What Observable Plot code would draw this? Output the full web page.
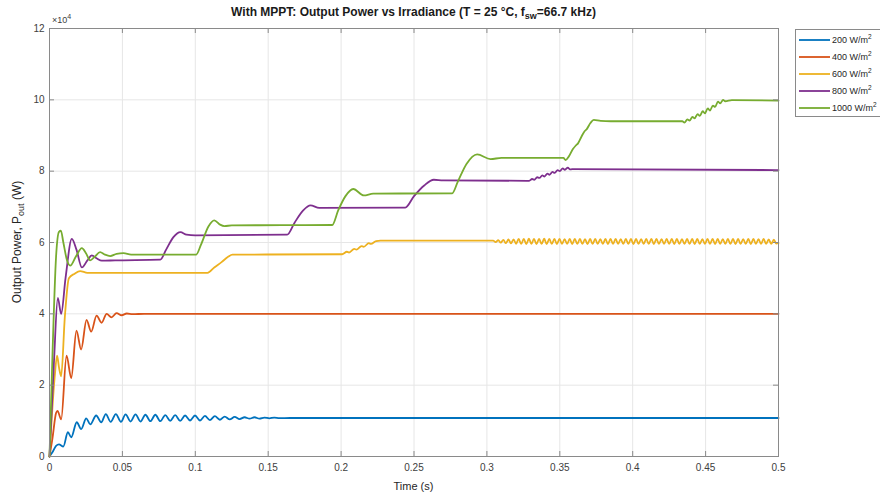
<!DOCTYPE html>
<html><head><meta charset="utf-8">
<script src="https://cdn.jsdelivr.net/npm/d3@7"></script>
<script src="https://cdn.jsdelivr.net/npm/@observablehq/plot@0.6"></script>
<style>
body{margin:0;background:#fff;}
svg{font-family:"Liberation Sans",Arial,Helvetica,sans-serif;}
</style>
</head><body><div id="chart"></div>
<script>
// ---- data (power in units of 1e4 W, time in s) ----
const seriesNames = ["200", "400", "600", "800", "1000"];
const seriesColors = ["#0072BD", "#D95319", "#EDB120", "#7E2F8E", "#77AC30"];
const xTicks = [0, 0.05, 0.1, 0.15, 0.2, 0.25, 0.3, 0.35, 0.4, 0.45, 0.5];
const yTicks = [0, 2, 4, 6, 8, 10, 12];

const p200 = [[0,0],[0.002,0.12],[0.0045,0.3],[0.0065,0.34],[0.0095,0.28],[0.0126,0.68],[0.0149,0.54],[0.0187,0.96],[0.0217,0.77],[0.0252,1.07],[0.028,0.9],[0.032,1.15],[0.0355,0.96],
[0.0386,1.19],[0.042,0.97],[0.0455,1.19],[0.049,0.97],[0.0522,1.18],[0.0556,0.98],[0.059,1.18],[0.0624,0.98],[0.0658,1.17],[0.0692,0.99],[0.0726,1.17],[0.076,0.99],[0.0794,1.16],[0.0828,1.0],[0.0862,1.16],[0.0896,1.0],[0.093,1.15],[0.0964,1.01],[0.0998,1.15],[0.1032,1.01],[0.1066,1.14],[0.11,1.02],[0.1134,1.13],[0.1168,1.03],[0.1202,1.12],[0.1236,1.04],[0.127,1.11],[0.1304,1.05],[0.1338,1.1],[0.1372,1.06],[0.1406,1.1],[0.144,1.06],[0.1474,1.09],[0.1508,1.07],[0.1542,1.09],[0.1576,1.075],[0.165,1.08],[0.5,1.08]];

const p400 = [[0,0],[0.002,0.5],[0.0045,1.22],[0.0055,1.28],[0.008,1.04],[0.0117,2.83],[0.0149,2.2],[0.0185,3.53],[0.0217,3.0],[0.0254,3.83],[0.0286,3.5],[0.0323,3.95],[0.0357,3.75],[0.0392,4.0],[0.0425,3.9],[0.046,4.02],[0.0495,3.96],[0.053,4.01],[0.057,3.99],[0.065,4.0],[0.5,4.0]];

const p600 = [[0,0],[0.0035,2.2],[0.0052,2.83],[0.0065,2.5],[0.008,2.25],[0.0105,3.9],[0.0133,5.0],[0.017,5.12],[0.021,5.2],[0.026,5.15],[0.04,5.15],[0.1084,5.15],[0.113,5.3],[0.118,5.45],[0.1225,5.6],[0.1255,5.66],
[0.2007,5.67],[0.204,5.74],[0.2055,5.72],[0.209,5.82],[0.2105,5.8],[0.214,5.9],[0.2155,5.88],[0.219,5.98],[0.2205,5.96],[0.224,6.04],[0.227,6.05],[0.3025,6.05],
[0.3043,6.05],[0.3060,6.01],[0.3078,6.065],[0.3095,5.995],[0.3113,6.075],[0.3130,5.98],[0.3148,6.085],[0.3165,5.975],[0.3183,6.09],[0.3200,5.965],
[0.3218,6.1],[0.3235,5.96],[0.3253,6.1],[0.3270,5.955],[0.3288,6.105],[0.3305,5.96],[0.3323,6.1],[0.3340,5.955],[0.3358,6.1],[0.3375,5.96],
[0.3393,6.105],[0.3410,5.955],[0.3428,6.1],[0.3445,5.96],[0.3463,6.1],[0.3480,5.955],[0.3498,6.1],[0.3515,5.96],[0.3533,6.095],[0.3550,5.96],
[0.3568,6.1],[0.3585,5.955],[0.3603,6.1],[0.3620,5.96],[0.3638,6.1],[0.3655,5.96],[0.3673,6.095],[0.3690,5.955],[0.3708,6.1],[0.3725,5.96],
[0.3743,6.1],[0.3760,5.96],[0.3778,6.095],[0.3795,5.96],[0.3813,6.1],[0.3830,5.955],[0.3848,6.1],[0.3865,5.96],[0.3883,6.1],[0.3900,5.96],
[0.3918,6.095],[0.3935,5.96],[0.3953,6.1],[0.3970,5.96],[0.3988,6.1],[0.4005,5.955],[0.4023,6.1],[0.4040,5.96],[0.4058,6.095],[0.4075,5.96],
[0.4093,6.1],[0.4110,5.96],[0.4128,6.1],[0.4145,5.955],[0.4163,6.1],[0.4180,5.96],[0.4198,6.095],[0.4215,5.96],[0.4233,6.1],[0.4250,5.96],
[0.4268,6.1],[0.4285,5.955],[0.4303,6.1],[0.4320,5.96],[0.4338,6.095],[0.4355,5.96],[0.4373,6.1],[0.4390,5.96],[0.4408,6.1],[0.4425,5.955],
[0.4443,6.1],[0.4460,5.96],[0.4478,6.095],[0.4495,5.96],[0.4513,6.1],[0.4530,5.96],[0.4548,6.1],[0.4565,5.955],[0.4583,6.1],[0.4600,5.96],
[0.4618,6.095],[0.4635,5.96],[0.4653,6.1],[0.4670,5.96],[0.4688,6.1],[0.4705,5.955],[0.4723,6.1],[0.4740,5.96],[0.4758,6.095],[0.4775,5.96],
[0.4793,6.1],[0.4810,5.955],[0.4828,6.1],[0.4845,5.96],[0.4863,6.095],[0.4880,5.96],[0.4898,6.1],[0.4915,5.96],[0.4933,6.09],[0.4950,5.96],
[0.4968,6.08],[0.4985,5.97],[0.5,5.99]];

const p800 = [[0,0],[0.003,2.6],[0.0057,4.45],[0.008,4.0],[0.011,5.0],[0.0153,6.1],[0.0185,5.8],[0.0222,5.3],[0.026,5.5],[0.029,5.64],[0.0325,5.55],[0.0359,5.49],[0.045,5.5],[0.076,5.52],[0.08,5.8],[0.085,6.15],[0.0898,6.29],[0.094,6.22],[0.1,6.2],
[0.163,6.22],[0.168,6.55],[0.174,6.9],[0.179,7.04],[0.185,6.97],[0.244,6.98],[0.25,7.3],[0.257,7.6],[0.2636,7.76],[0.27,7.74],[0.329,7.73],
[0.331,7.78],[0.3325,7.76],[0.3345,7.83],[0.336,7.81],[0.338,7.88],[0.3395,7.85],[0.3415,7.93],[0.343,7.9],[0.345,7.98],[0.3465,7.95],[0.3485,8.03],[0.35,8.0],[0.352,8.08],[0.3535,8.04],[0.3555,8.1],[0.357,8.05],[0.36,8.06],[0.5,8.03]];

const p1000 = [[0,0],[0.002,2.8],[0.0045,5.6],[0.0065,6.3],[0.0078,6.33],[0.0095,6.0],[0.012,5.5],[0.0142,5.35],[0.018,5.6],[0.0222,5.84],[0.025,5.7],[0.0279,5.5],[0.031,5.6],[0.0347,5.73],[0.038,5.66],[0.0416,5.62],[0.046,5.68],[0.0508,5.7],[0.056,5.66],
[0.1005,5.66],[0.104,5.95],[0.109,6.45],[0.113,6.62],[0.117,6.5],[0.12,6.46],[0.125,6.48],[0.1939,6.49],[0.198,6.9],[0.203,7.3],[0.2083,7.5],[0.2156,7.32],[0.222,7.37],
[0.2762,7.38],[0.28,7.7],[0.286,8.2],[0.2933,8.47],[0.3025,8.34],[0.31,8.37],[0.3525,8.37],[0.354,8.31],[0.356,8.4],[0.359,8.62],[0.361,8.72],[0.3625,8.78],[0.365,8.98],[0.367,9.12],[0.3685,9.18],[0.371,9.35],[0.3733,9.44],[0.378,9.41],[0.385,9.4],
[0.434,9.4],[0.4355,9.36],[0.4375,9.45],[0.439,9.42],[0.441,9.52],[0.4425,9.48],[0.4445,9.6],[0.446,9.55],[0.448,9.68],[0.4495,9.62],[0.4515,9.76],[0.453,9.7],[0.455,9.84],[0.4565,9.8],[0.4585,9.95],[0.46,9.9],[0.462,10.0],[0.4635,9.96],[0.468,9.99],[0.5,9.98]];

const seriesPoints = [p200, p400, p600, p800, p1000];
const data = seriesNames.flatMap((s, i) => seriesPoints[i].map(([t, v]) => ({s, t, v})));

// ---- layout ----
const W = 880, H = 495, mL = 49, mR = 102, mT = 28, mB = 39;
const pw = W - mL - mR, ph = H - mT - mB, tk = 5;
const axisCol = "#8a8a8a", textCol = "#404040", gridCol = "#e6e6e6";

const chart = Plot.plot({
  width: W, height: H,
  marginLeft: mL, marginRight: mR, marginTop: mT, marginBottom: mB,
  style: {fontFamily: "'Liberation Sans', Arial, sans-serif", fontSize: "10px", color: textCol, background: "#fff"},
  x: {domain: [0, 0.5]},
  y: {domain: [0, 12]},
  color: {domain: seriesNames, range: seriesColors},
  marks: [
    Plot.gridX(xTicks, {stroke: gridCol, strokeOpacity: 1}),
    Plot.gridY(yTicks, {stroke: gridCol, strokeOpacity: 1}),
    Plot.line(data, {x: "t", y: "v", z: "s", stroke: "s", strokeWidth: 1.8, curve: "monotone-x"}),
    Plot.frame({stroke: axisCol}),
    Plot.tickX(xTicks, {x: d => d, insetTop: ph - tk, stroke: axisCol}),
    Plot.tickX(xTicks, {x: d => d, insetBottom: ph - tk, stroke: axisCol}),
    Plot.tickY(yTicks, {y: d => d, insetRight: pw - tk, stroke: axisCol}),
    Plot.tickY(yTicks, {y: d => d, insetLeft: pw - tk, stroke: axisCol}),
    Plot.axisX(xTicks, {tickSize: 0, tickPadding: 7, tickFormat: d => String(d), label: null, fontSize: 10}),
    Plot.axisY(yTicks, {tickSize: 0, tickPadding: 5, tickFormat: d => String(d), label: null, fontSize: 10})
  ]
});
document.getElementById("chart").appendChild(chart);

const svg = d3.select(chart);
const ff = "'Liberation Sans', Arial, sans-serif";

// title
const title = svg.append("text").attr("x", mL + pw / 2).attr("y", 16).attr("text-anchor", "middle")
  .attr("font-family", ff).attr("font-size", 12).attr("font-weight", "bold").attr("fill", "#1a1a1a");
title.append("tspan").text("With MPPT: Output Power vs Irradiance (T = 25 °C, f");
title.append("tspan").attr("dy", 3).attr("font-size", 9).text("sw");
title.append("tspan").attr("dy", -3).text("=66.7 kHz)");

// exponent
const ex = svg.append("text").attr("x", mL + 3).attr("y", 23).attr("text-anchor", "start")
  .attr("font-family", ff).attr("font-size", 9).attr("fill", textCol);
ex.append("tspan").text("×10");
ex.append("tspan").attr("dy", -4).attr("font-size", 7).text("4");

// x label
svg.append("text").attr("x", mL + pw / 2).attr("y", 490).attr("text-anchor", "middle")
  .attr("font-family", ff).attr("font-size", 11).attr("fill", "#262626").text("Time (s)");

// y label
const yl = svg.append("text").attr("transform", `translate(21,${mT + ph / 2}) rotate(-90)`).attr("text-anchor", "middle")
  .attr("font-family", ff).attr("font-size", 12).attr("fill", "#262626");
yl.append("tspan").text("Output Power, P");
yl.append("tspan").attr("dy", 3).attr("font-size", 9).text("out");
yl.append("tspan").attr("dy", -3).text(" (W)");

// legend
const lg = svg.append("g").attr("text-anchor", "start");
const lx = 795, ly = 29, rowH = 17, lh = 87;
lg.append("rect").attr("x", lx + 0.5).attr("y", ly + 0.5).attr("width", 120).attr("height", lh)
  .attr("fill", "#fff").attr("stroke", axisCol);
seriesNames.forEach((s, i) => {
  const yy = ly + 11 + i * rowH;
  lg.append("line").attr("x1", lx + 4).attr("x2", lx + 35).attr("y1", yy).attr("y2", yy)
    .attr("stroke", seriesColors[i]).attr("stroke-width", 1.8);
  const t = lg.append("text").attr("x", lx + 37).attr("y", yy + 3.3).attr("text-anchor", "start")
    .attr("font-family", ff).attr("font-size", 9).attr("fill", "#262626");
  t.append("tspan").text(s + " W/m");
  t.append("tspan").attr("dy", -4).attr("font-size", 6.5).text("2");
});
</script>
</body></html>
